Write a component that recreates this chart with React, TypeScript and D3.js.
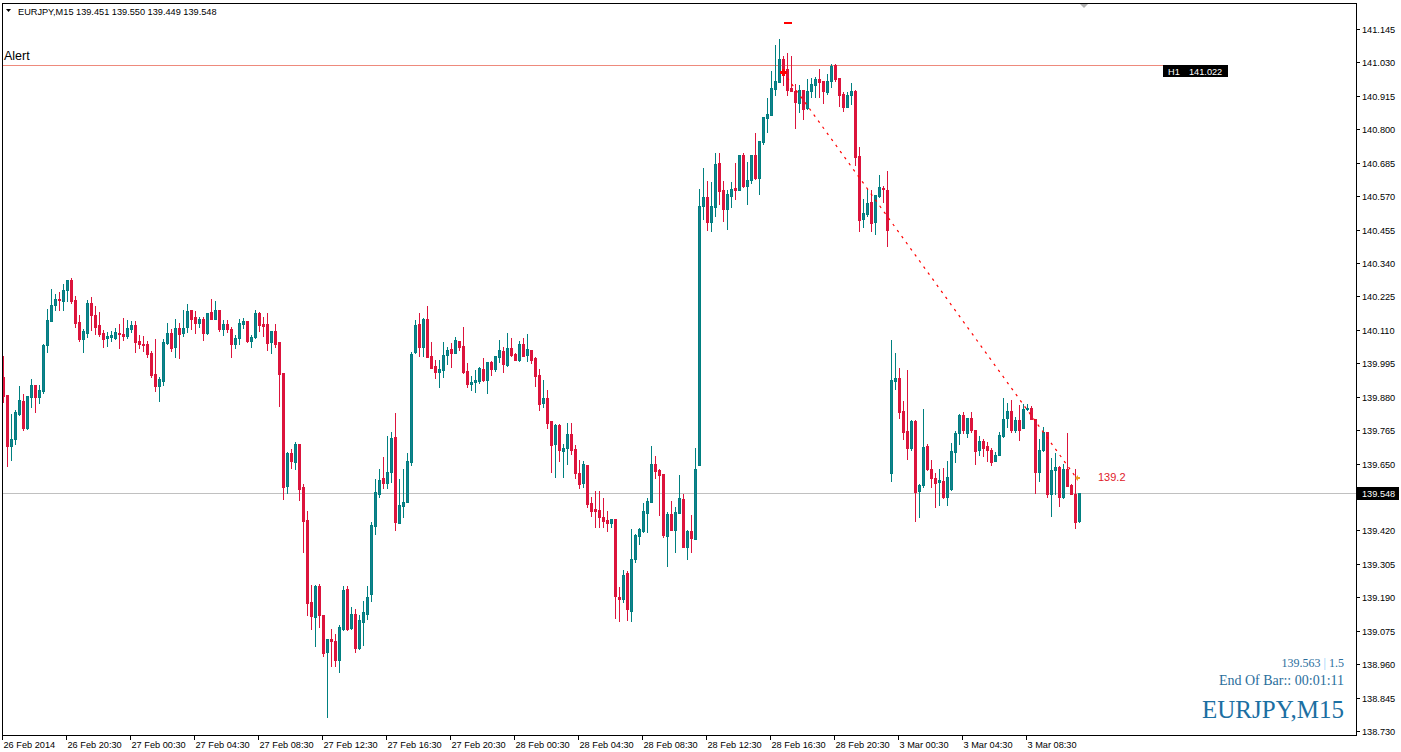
import * as d3 from "d3";

type Bar = [number, number, number, number]; // open, high, low, close

// EURJPY M15, 26 Feb 16:30 .. 23:45
const FEB26: Bar[] = [
  [139.948, 140.020, 139.862, 139.882], [139.885, 139.885, 139.642, 139.711], [139.711, 139.820, 139.662, 139.734],
  [139.734, 139.834, 139.716, 139.826], [139.820, 139.916, 139.817, 139.868], [139.865, 139.889, 139.765, 139.773],
  [139.773, 139.884, 139.769, 139.882], [139.878, 139.940, 139.845, 139.922], [139.922, 139.922, 139.828, 139.880],
  [139.880, 139.920, 139.859, 139.903], [139.900, 140.063, 139.893, 140.058], [140.059, 140.181, 140.034, 140.144],
  [140.141, 140.250, 140.140, 140.195], [140.195, 140.233, 140.180, 140.216], [140.216, 140.240, 140.178, 140.212],
  [140.210, 140.267, 140.180, 140.247], [140.247, 140.281, 140.209, 140.281], [140.281, 140.288, 140.201, 140.209],
  [140.212, 140.226, 140.120, 140.134], [140.137, 140.161, 140.072, 140.078], [140.078, 140.113, 140.034, 140.107],
  [140.100, 140.212, 140.086, 140.201], [140.201, 140.223, 140.109, 140.161], [140.161, 140.192, 140.095, 140.120],
  [140.126, 140.170, 140.089, 140.095], [140.099, 140.109, 140.052, 140.079], [140.082, 140.102, 140.054, 140.089],
  [140.086, 140.106, 140.071, 140.092], [140.082, 140.116, 140.078, 140.102], [140.099, 140.130, 140.047, 140.095],
];

const FEB27: Bar[] = [
  [140.095, 140.150, 140.075, 140.090], [140.089, 140.144, 140.082, 140.116], [140.113, 140.140, 140.102, 140.126],
  [140.126, 140.140, 140.033, 140.068], [140.070, 140.092, 140.047, 140.063], [140.061, 140.089, 140.038, 140.058],
  [140.063, 140.072, 140.017, 140.027], [140.029, 140.038, 139.948, 139.954], [139.957, 140.077, 139.900, 139.916],
  [139.916, 139.948, 139.866, 139.940], [139.935, 140.077, 139.920, 140.069], [140.065, 140.134, 140.061, 140.098],
  [140.098, 140.112, 140.038, 140.046], [140.052, 140.149, 140.015, 140.115], [140.115, 140.134, 140.014, 140.095],
  [140.100, 140.178, 140.089, 140.118], [140.120, 140.199, 140.103, 140.175], [140.178, 140.178, 140.112, 140.148],
  [140.155, 140.175, 140.098, 140.132], [140.134, 140.155, 140.120, 140.146], [140.148, 140.153, 140.075, 140.100],
  [140.098, 140.167, 140.095, 140.167], [140.171, 140.216, 140.146, 140.148], [140.148, 140.209, 140.146, 140.178],
  [140.178, 140.178, 140.107, 140.114], [140.112, 140.144, 140.092, 140.130], [140.130, 140.144, 140.103, 140.114],
  [140.112, 140.120, 140.017, 140.060], [140.060, 140.092, 140.048, 140.081], [140.081, 140.146, 140.060, 140.132],
  [140.129, 140.152, 140.115, 140.140], [140.140, 140.140, 140.069, 140.072], [140.072, 140.092, 140.052, 140.084],
  [140.084, 140.178, 140.081, 140.167], [140.167, 140.170, 140.106, 140.126], [140.130, 140.153, 140.089, 140.124],
  [140.130, 140.167, 140.040, 140.065], [140.069, 140.106, 140.029, 140.106], [140.106, 140.130, 140.050, 140.063],
  [140.067, 140.067, 139.849, 139.957], [139.960, 139.960, 139.527, 139.570], [139.573, 139.690, 139.549, 139.685],
  [139.688, 139.700, 139.635, 139.659], [139.656, 139.723, 139.633, 139.719], [139.719, 139.719, 139.526, 139.564],
  [139.568, 139.579, 139.346, 139.453], [139.455, 139.487, 139.128, 139.171], [139.173, 139.231, 139.082, 139.126],
  [139.122, 139.231, 139.023, 139.228], [139.228, 139.235, 139.088, 139.128], [139.128, 139.128, 138.987, 138.998],
  [139.002, 139.045, 138.778, 139.045], [139.045, 139.082, 138.954, 139.040], [139.039, 139.065, 138.954, 138.973],
  [138.973, 139.094, 138.933, 139.088], [139.080, 139.228, 139.077, 139.214], [139.218, 139.228, 139.079, 139.082],
  [139.085, 139.155, 139.082, 139.132], [139.132, 139.148, 139.002, 139.016], [139.014, 139.128, 139.011, 139.111],
  [139.105, 139.176, 139.025, 139.138], [139.134, 139.228, 139.117, 139.191], [139.201, 139.449, 139.176, 139.438],
  [139.436, 139.596, 139.409, 139.551], [139.547, 139.631, 139.535, 139.595], [139.599, 139.673, 139.566, 139.584],
  [139.584, 139.744, 139.566, 139.621], [139.621, 139.759, 139.587, 139.738], [139.741, 139.825, 139.421, 139.449],
  [139.446, 139.596, 139.444, 139.507], [139.504, 139.631, 139.467, 139.518], [139.518, 139.685, 139.518, 139.658],
  [139.656, 140.034, 139.645, 140.027], [140.034, 140.144, 140.031, 140.126], [140.130, 140.167, 140.020, 140.052],
  [140.052, 140.152, 140.020, 140.147], [140.147, 140.192, 140.017, 140.017], [140.020, 140.068, 139.979, 139.979],
  [139.985, 140.006, 139.945, 139.966], [139.966, 140.006, 139.914, 139.975], [139.971, 140.067, 139.948, 140.023],
  [140.023, 140.052, 139.994, 140.040], [140.044, 140.065, 139.983, 140.032], [140.031, 140.084, 140.029, 140.075],
  [140.072, 140.072, 140.040, 140.052], [140.054, 140.120, 139.960, 139.965], [139.968, 139.997, 139.912, 139.923],
  [139.924, 139.951, 139.903, 139.930], [139.931, 139.971, 139.897, 139.937], [139.935, 139.983, 139.926, 139.978],
  [139.975, 140.012, 139.935, 139.937], [139.937, 140.000, 139.893, 139.999], [139.999, 140.002, 139.953, 139.975],
  [139.975, 140.020, 139.969, 140.020], [140.017, 140.075, 139.998, 140.040], [140.037, 140.052, 139.966, 139.992],
];

const FEB28: Bar[] = [
  [139.989, 140.100, 139.985, 140.047], [140.047, 140.083, 140.020, 140.023], [140.027, 140.031, 140.006, 140.006],
  [140.006, 140.071, 140.004, 140.061], [140.061, 140.083, 140.020, 140.020], [140.023, 140.095, 140.004, 140.044],
  [140.040, 140.040, 139.997, 140.006], [140.014, 140.017, 139.916, 139.951], [139.954, 139.977, 139.836, 139.854],
  [139.859, 139.937, 139.845, 139.874], [139.874, 139.903, 139.771, 139.790], [139.796, 139.796, 139.621, 139.713],
  [139.717, 139.785, 139.604, 139.782], [139.782, 139.786, 139.659, 139.698], [139.694, 139.719, 139.604, 139.704],
  [139.702, 139.790, 139.648, 139.751], [139.751, 139.790, 139.682, 139.698], [139.700, 139.713, 139.601, 139.618],
  [139.619, 139.662, 139.566, 139.579], [139.584, 139.659, 139.570, 139.648], [139.645, 139.645, 139.501, 139.510],
  [139.513, 139.535, 139.469, 139.487], [139.493, 139.555, 139.432, 139.486], [139.490, 139.555, 139.432, 139.465],
  [139.466, 139.530, 139.432, 139.453], [139.455, 139.486, 139.417, 139.446], [139.446, 139.461, 139.432, 139.461],
  [139.461, 139.461, 139.119, 139.195], [139.191, 139.226, 139.109, 139.184], [139.184, 139.283, 139.174, 139.268],
  [139.272, 139.281, 139.111, 139.148], [139.143, 139.424, 139.109, 139.323], [139.322, 139.407, 139.310, 139.404],
  [139.401, 139.430, 139.372, 139.424], [139.417, 139.513, 139.413, 139.486], [139.480, 139.532, 139.415, 139.521],
  [139.518, 139.710, 139.518, 139.648], [139.648, 139.675, 139.601, 139.625], [139.627, 139.630, 139.472, 139.610],
  [139.613, 139.613, 139.398, 139.404], [139.401, 139.484, 139.298, 139.478], [139.476, 139.521, 139.421, 139.421],
  [139.421, 139.501, 139.346, 139.484], [139.480, 139.610, 139.480, 139.530], [139.527, 139.547, 139.363, 139.363],
  [139.363, 139.423, 139.321, 139.417], [139.417, 139.472, 139.346, 139.394], [139.392, 139.702, 139.392, 139.633],
  [139.645, 140.593, 139.645, 140.536], [140.536, 140.668, 140.490, 140.568], [140.568, 140.622, 140.453, 140.482],
  [140.482, 140.620, 140.451, 140.536], [140.534, 140.719, 140.502, 140.681], [140.683, 140.719, 140.543, 140.589],
  [140.591, 140.622, 140.485, 140.526], [140.526, 140.591, 140.457, 140.577], [140.570, 140.618, 140.534, 140.595],
  [140.597, 140.683, 140.560, 140.591], [140.591, 140.712, 140.591, 140.712], [140.712, 140.717, 140.602, 140.605],
  [140.606, 140.688, 140.543, 140.625], [140.625, 140.712, 140.614, 140.712], [140.712, 140.788, 140.628, 140.633],
  [140.633, 140.760, 140.577, 140.760], [140.757, 140.843, 140.749, 140.843], [140.840, 140.909, 140.792, 140.853],
  [140.849, 141.001, 140.849, 140.941], [140.939, 141.090, 140.918, 140.966], [140.964, 141.111, 140.964, 141.042],
  [141.042, 141.052, 140.952, 141.008], [141.008, 141.062, 140.918, 140.935], [140.943, 141.053, 140.933, 140.933],
  [140.933, 140.955, 140.803, 140.895], [140.892, 140.952, 140.861, 140.935], [140.935, 140.935, 140.835, 140.870],
  [140.874, 140.972, 140.869, 140.932], [140.932, 140.975, 140.910, 140.956], [140.952, 140.981, 140.910, 140.973],
  [140.973, 141.008, 140.910, 140.964], [140.966, 140.966, 140.889, 140.932], [140.929, 140.990, 140.920, 140.966],
  [140.967, 141.024, 140.947, 141.019], [141.021, 141.025, 140.967, 140.973], [140.975, 140.975, 140.881, 140.918],
  [140.921, 140.927, 140.863, 140.878], [140.878, 140.927, 140.876, 140.918], [140.918, 140.958, 140.886, 140.932],
  [140.933, 140.935, 140.677, 140.706], [140.708, 140.738, 140.451, 140.488], [140.491, 140.560, 140.465, 140.511],
  [140.508, 140.594, 140.503, 140.545], [140.549, 140.591, 140.451, 140.478], [140.482, 140.574, 140.439, 140.574],
  [140.570, 140.643, 140.568, 140.600], [140.599, 140.605, 140.551, 140.593], [140.591, 140.656, 140.399, 140.453],
];

const MAR03: Bar[] = [
  [139.616, 140.075, 139.590, 139.937], [139.935, 140.029, 139.908, 139.946], [139.943, 139.979, 139.807, 139.828],
  [139.830, 139.865, 139.734, 139.759], [139.762, 139.971, 139.665, 139.704], [139.704, 139.799, 139.698, 139.796],
  [139.796, 139.799, 139.453, 139.553], [139.556, 139.581, 139.465, 139.578], [139.576, 139.837, 139.570, 139.707],
  [139.710, 139.716, 139.627, 139.630], [139.630, 139.662, 139.568, 139.599], [139.599, 139.618, 139.501, 139.584],
  [139.587, 139.631, 139.507, 139.593], [139.589, 139.635, 139.533, 139.535], [139.535, 139.658, 139.509, 139.604],
  [139.562, 139.721, 139.559, 139.693], [139.690, 139.762, 139.656, 139.756], [139.754, 139.822, 139.719, 139.817],
  [139.817, 139.828, 139.756, 139.767], [139.756, 139.807, 139.742, 139.807], [139.807, 139.828, 139.759, 139.767],
  [139.765, 139.765, 139.647, 139.693], [139.696, 139.745, 139.681, 139.727], [139.727, 139.733, 139.677, 139.705],
  [139.711, 139.725, 139.658, 139.696], [139.698, 139.705, 139.645, 139.656], [139.659, 139.690, 139.659, 139.681],
  [139.681, 139.759, 139.679, 139.748], [139.745, 139.876, 139.742, 139.805], [139.807, 139.860, 139.776, 139.830],
  [139.830, 139.868, 139.759, 139.767], [139.767, 139.811, 139.759, 139.799], [139.799, 139.851, 139.731, 139.767],
  [139.774, 139.854, 139.771, 139.837], [139.837, 139.854, 139.834, 139.841], [139.840, 139.849, 139.802, 139.805],
  [139.805, 139.805, 139.549, 139.621], [139.621, 139.736, 139.590, 139.698], [139.698, 139.776, 139.694, 139.759],
  [139.757, 139.757, 139.535, 139.545], [139.545, 139.668, 139.470, 139.627], [139.627, 139.685, 139.547, 139.639],
  [139.639, 139.641, 139.504, 139.535], [139.535, 139.647, 139.532, 139.633], [139.633, 139.756, 139.572, 139.572],
  [139.576, 139.579, 139.545, 139.547], [139.547, 139.633, 139.430, 139.449], [139.451, 139.550, 139.449, 139.548],
];

const PRICE_TICKS = [
  141.145, 141.03, 140.915, 140.8, 140.685, 140.57, 140.455, 140.34, 140.225, 140.11, 139.995,
  139.88, 139.765, 139.65, 139.535, 139.42, 139.305, 139.19, 139.075, 138.96, 138.845, 138.73,
];

const TIME_LABELS = [
  "26 Feb 2014", "26 Feb 20:30", "27 Feb 00:30", "27 Feb 04:30", "27 Feb 08:30", "27 Feb 12:30",
  "27 Feb 16:30", "27 Feb 20:30", "28 Feb 00:30", "28 Feb 04:30", "28 Feb 08:30", "28 Feb 12:30",
  "28 Feb 16:30", "28 Feb 20:30", "3 Mar 00:30", "3 Mar 04:30", "3 Mar 08:30",
];
const BARS_PER_LABEL = 16;

const ALERT_LEVEL = 141.022;
const TREND = [
  { bar: 195, price: 140.997 },
  { bar: 268, price: 139.607 },
];
const HIGH_MARK = { bar: 196, price: 141.168 };
const TARGET = { bar: 268.5, price: 139.6, label: "139.2" };
const INFO = { bid: "139.563", spread: "1.5", timer: "00:01:11", symbol: "EURJPY,M15" };

const BULL = "#008080";
const BULL_BODY = "#177d8f";
const BEAR = "#dc143c";
const SANS = "'Liberation Sans', Arial, sans-serif";
const SERIF = "'Liberation Serif', 'Times New Roman', serif";

export default function App() {
  const bars = [...FEB26, ...FEB27, ...FEB28, ...MAR03];
  const last = bars[bars.length - 1];

  const W = 1401;
  const H = 752;
  const left = 2;
  const top = 3;
  const right = 1356;
  const bottom = 735;

  const x = d3.scaleLinear().domain([0, 269]).range([3, 1079]);
  const y = d3.scaleLinear().domain([138.73, 141.145]).range([731, 29]);

  const lastY = Math.round(y(last[3]));
  const alertY = Math.round(y(ALERT_LEVEL)) + 0.5;

  const trendLine = d3
    .line<{ bar: number; price: number }>()
    .x((d) => x(d.bar))
    .y((d) => y(d.price));

  return (
    <svg
      width={W}
      height={H}
      style={{ position: "absolute", left: 0, top: 0, background: "#fff" }}
      shapeRendering="crispEdges"
    >
      <rect x={0} y={0} width={W} height={H} fill="#fff" />

      {/* price line of the last bid */}
      <line x1={left} x2={right} y1={lastY + 0.5} y2={lastY + 0.5} stroke="#c0c0c0" />

      {/* alert level */}
      <line x1={left} x2={1163} y1={alertY} y2={alertY} stroke="#ee8a7c" />
      <text x={4} y={60} fontFamily={SANS} fontSize={12.5} fill="#000">
        Alert
      </text>
      <rect x={1163} y={alertY - 0.5} width={65} height={12} fill="#000" />
      <text x={1168} y={alertY + 9} fontFamily={SANS} fontSize={9.2} fill="#fff">
        H1
      </text>
      <text x={1189} y={alertY + 9} fontFamily={SANS} fontSize={9.2} fill="#fff">
        {ALERT_LEVEL.toFixed(3)}
      </text>

      {/* candles */}
      {bars.map((b, i) => {
        const [o, h, l, c] = b;
        const up = c >= o;
        const cx = Math.round(x(i));
        const hi = Math.round(y(Math.max(h, o, c)));
        const lo = Math.round(y(Math.min(l, o, c)));
        const bt = Math.round(y(Math.max(o, c)));
        const bb = Math.round(y(Math.min(o, c)));
        const col = up ? BULL : BEAR;
        return (
          <g key={i}>
            <rect x={cx} y={hi} width={1} height={Math.max(1, lo - hi + 1)} fill={col} />
            {up ? (
              <>
                <rect x={cx - 1} y={bt} width={3} height={Math.max(1, bb - bt + 1)} fill={BULL} />
                {bb - bt > 1 && <rect x={cx} y={bt + 1} width={1} height={bb - bt - 1} fill={BULL_BODY} />}
              </>
            ) : (
              <rect x={cx - 1} y={bt} width={3} height={Math.max(1, bb - bt + 1)} fill={BEAR} />
            )}
          </g>
        );
      })}

      {/* dotted trend line */}
      <path
        d={trendLine(TREND) || ""}
        fill="none"
        stroke="#ff0000"
        strokeWidth={1.2}
        strokeDasharray="2.5,5"
        shapeRendering="auto"
      />
      <g fill="#ff0000">
        <rect x={x(TREND[0].bar) - 1} y={y(TREND[0].price) - 3} width={3} height={7} />
        <rect x={x(TREND[0].bar) - 3} y={y(TREND[0].price) - 1} width={7} height={3} />
      </g>
      <rect x={x(HIGH_MARK.bar) - 3} y={Math.round(y(HIGH_MARK.price))} width={8} height={1.5} fill="#ff0000" />

      {/* target flag */}
      <path
        d={`M${x(TARGET.bar) - 2},${y(TARGET.price)} l3,-3 l0,2 l2,0 l0,2 l-2,0 l0,2 z`}
        fill="#e8a020"
        shapeRendering="auto"
      />
      <text x={1098} y={481} fontFamily={SANS} fontSize={11} fill="#e0202a">
        {TARGET.label}
      </text>

      {/* header */}
      <path d="M6,9 L11,9 L8.5,12 z" fill="#000" shapeRendering="auto" />
      <text x={18} y={15} fontFamily={SANS} fontSize={9.2} fill="#000">
        {`EURJPY,M15  ${last.map((v) => v.toFixed(3)).join(" ")}`}
      </text>
      <path d="M1080,4 L1088,4 L1084,8 z" fill="#b0b0b0" shapeRendering="auto" />

      {/* frame */}
      <rect x={left + 0.5} y={top + 0.5} width={right - left} height={bottom - top} fill="none" stroke="#000" />

      {/* price axis */}
      {PRICE_TICKS.filter((p) => Math.abs(y(p) - lastY) > 9).map((p) => {
        const ty = Math.round(y(p));
        return (
          <g key={p}>
            <rect x={right} y={ty} width={4} height={1} fill="#000" />
            <text x={1362} y={ty + 4} fontFamily={SANS} fontSize={9.2} fill="#000">
              {p.toFixed(3)}
            </text>
          </g>
        );
      })}
      <rect x={right + 1} y={lastY - 6} width={W - right - 3} height={13} fill="#000" />
      <text x={1362} y={lastY + 4} fontFamily={SANS} fontSize={9.2} fill="#fff">
        {last[3].toFixed(3)}
      </text>

      {/* time axis */}
      {TIME_LABELS.map((t, k) => {
        const tx = Math.round(x(k * BARS_PER_LABEL)) - 1;
        return (
          <g key={t}>
            <rect x={tx} y={bottom} width={1} height={5} fill="#000" />
            <text x={tx + 1.5} y={748} fontFamily={SANS} fontSize={9.2} fill="#000">
              {t}
            </text>
          </g>
        );
      })}

      {/* info block */}
      <text x={1344} y={667} textAnchor="end" fontFamily={SERIF} fontSize={12} fill="#2a6e9c">
        {INFO.bid}
        <tspan fill="#87cefa"> | </tspan>
        {INFO.spread}
      </text>
      <text x={1344} y={685} textAnchor="end" fontFamily={SERIF} fontSize={14} fill="#2a6e9c">
        {`End Of Bar:: ${INFO.timer}`}
      </text>
      <text x={1344} y={718} textAnchor="end" fontFamily={SERIF} fontSize={25} fill="#1c6fa2">
        {INFO.symbol}
      </text>
    </svg>
  );
}
